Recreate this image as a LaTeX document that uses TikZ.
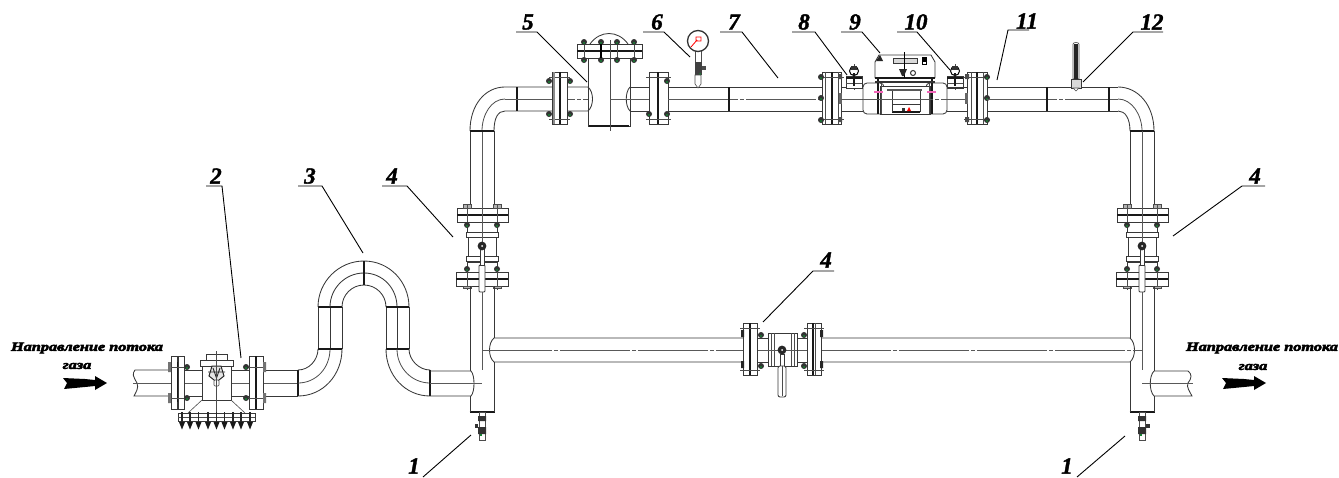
\documentclass[tikz,border=0pt]{standalone}
\usepackage{fontspec}
\setmainfont{Liberation Serif}
\newfontfamily\numfont[FakeBold=1.6]{Liberation Serif Bold Italic}
\newfontfamily\capfont[FakeBold=4.5,FakeStretch=1.3]{Liberation Serif Bold Italic}
\definecolor{bgreen}{RGB}{20,130,50}
\tikzset{
 pl/.style={line width=.85pt,draw=black!78},
 thk/.style={line width=1.7pt,draw=black!90},
 cl/.style={line width=.75pt,draw=black!65,dash pattern=on 70pt off 2pt on 4pt off 2pt},
 thin line/.style={line width=.6pt,draw=black!70},
 lead/.style={line width=.9pt,draw=black},
 numtxt/.style={font=\numfont\fontsize{23}{23}\selectfont,inner sep=0pt},
 captxt/.style={font=\capfont\fontsize{12.5}{13}\selectfont,inner sep=0pt},
}
\newcommand{\boltmark}[2]{\fill[black!80] (#1,#2) circle (3);\fill[bgreen] (#1,#2+1) circle (1.2);}
\newcommand{\callout}[6]{%
 \node[numtxt] (t#1) at (#3) {#2};
 \coordinate (a#1) at (#4); \coordinate (b#1) at (#5); \coordinate (c#1) at (#6);
 \draw[lead] (a#1) -- (b#1) -- (c#1);}
% flange on horizontal pipe: x1, xm, x2, yc
\newcommand{\flangeH}[4]{%
 \draw[pl,fill=white] (#1,#4-26) rectangle (#3,#4+26);
 \draw[thk] (#2,#4-26) -- (#2,#4+26);
 \draw[thin line] (#1-3,#4-21) -- (#3+3,#4-21) (#1-3,#4+21) -- (#3+3,#4+21);}
% vertical-pipe valve: cx, nub x1, nub x2
\newcommand{\valveV}[3]{%
 \begin{scope}[shift={(#1,0)}]
 \draw[pl] (-12,131) -- (-12,208) (12,131) -- (12,208);
 \draw[pl,fill=white] (-25,208) rectangle (26,222);
 \draw[thk] (-25,215) -- (26,215);
 \draw[thin line,fill=black!30] (-19,204) rectangle (-11,208) (11,204) rectangle (19,208);
 \draw[thin line] (-15,204) -- (-15,222) (15,204) -- (15,222);
 \draw[pl] (-15,222) -- (-15,232) (15,222) -- (15,232);
 \boltmark{-15}{225}\boltmark{15}{225}
 \draw[pl,fill=white] (-14,232) rectangle (14,262);
 \draw[pl,fill=white] (-16,232) rectangle (16,237) (-16,256) rectangle (16,261);
 \draw[pl] (-15,261) -- (-15,272) (15,261) -- (15,272);
 \boltmark{-15}{269}\boltmark{15}{269}
 \draw[pl,fill=white] (-26,272) rectangle (26,286);
 \draw[thk] (-26,279) -- (26,279);
 \draw[thin line] (-15,272) -- (-15,290) (15,272) -- (15,290);
 \draw[thin line,fill=black!30] (-19,286) rectangle (-11,288) (11,286) rectangle (19,288);
 \draw[cl,dash pattern=on 200pt] (0,170) -- (0,412);
 \draw[thk] (-12.5,412) -- (12.5,412);
 \draw[pl,fill=white,rounded corners=1pt] (-3,265) rectangle (3,292);
 \draw[pl,fill=white] (-2,246) rectangle (2,265);
 \fill[black!85] (0,246) circle (4.4);
 \fill[white] (0,246) circle (1);
 \draw[thin line,fill=white] (-3,433) rectangle (3,440);
 \draw[thin line] (-3,412) rectangle (3,433);
 \fill[black!80] (-4,416) rectangle (4,421) (-4,427) rectangle (4,434);
 \fill[black!80] (#2,424) rectangle (#3,428);
 \fill[bgreen] (-2,434) rectangle (0,436);
 \end{scope}}
\newcommand{\instr}[1]{%
 \draw[thin line] (#1,64) -- (#1,90);
 \draw[line width=1pt,draw=black,fill=white] (#1,71) circle (4.5);
 \fill[black!80] (#1-3,66) rectangle (#1+3,70);
 \draw[pl,fill=white] (#1-8,76) -- (#1+8,76) -- (#1+8,88) -- (#1-8,88) -- cycle;
 \draw[thk] (#1-8,78) -- (#1+8,78);
 \draw[thin line] (#1-8,83) -- (#1+8,83);
 \draw[thk] (#1,73) -- (#1,86);}
\newcommand{\flowarrow}[1]{%
 \fill[black,shift={(#1,0)}] (0,378) -- (22,379) -- (32,380) -- (32,376) -- (44,383) -- (32,390) -- (32,386) -- (22,387) -- (1,389) -- (4,383) -- cycle;}
\begin{document}
\begin{tikzpicture}[x=1pt,y=-1pt]
\useasboundingbox (0,0) rectangle (1339,477);
%
% ---- inlet pipe
\draw[pl] (171,370) -- (135,370) .. controls (132,374) and (133,376) .. (137,383) .. controls (139,388) and (136,392) .. (134,396) -- (171,396);
\draw[cl] (133,383) -- (171,383);
\draw[pl] (184,370) -- (202,370) (184,396) -- (202,396) (231,370) -- (249,370) (231,396) -- (249,396);
\draw[pl] (263,370) -- (298,370) (263,396) -- (298,396);
\draw[cl] (263,383) -- (297,383);
\draw[cl] (184,383) -- (249,383);
% inlet valve flanges
\draw[pl,fill=white] (171,356) rectangle (177,409) (178,356) rectangle (184,409);
\draw[thk] (177.5,362) -- (177.5,402);
\draw[pl,fill=white] (249,356) rectangle (263,409);
\draw[thk] (256,356) -- (256,409);
\draw[thin line] (168,367) -- (187,367) (168,398) -- (187,398) (246,367) -- (266,367) (246,398) -- (266,398);
\fill[black!55] (168,362) rectangle (171,372) (168,393) rectangle (171,403) (263,362) rectangle (266,372) (263,393) rectangle (266,403);
\boltmark{187}{367}\boltmark{187}{398}\boltmark{246}{367}\boltmark{246}{398}
% inlet valve body
\draw[pl,fill=white] (202,362) rectangle (231,400);
\draw[pl,fill=white] (200,360) rectangle (233,366);
\draw[pl,fill=white] (206,354) rectangle (227,360);
\draw[thin line] (188,413) -- (202,400) (245,413) -- (231,400);
\draw[line width=1pt,draw=black!85,fill=black!10] (212,366) -- (221,366) -- (224,376) -- (216.5,382) -- (209,376) -- cycle;
\draw[line width=.9pt,draw=black!85] (208,372) -- (225,372) (213,368) -- (216.5,378) -- (220,368);
\draw[thin line,fill=white,rounded corners=1pt] (214,380) rectangle (219,386);
\draw[thin line] (216.5,351) -- (216.5,413);
\draw[pl,fill=white] (178,413) rectangle (255,421);
\draw[thin line] (178,417) -- (255,417);
\foreach \nx in {182,190,198.5,208,216.5,224.5,233,241,250}{
 \draw[line width=1.1pt,draw=black!85] (\nx,412) -- (\nx,425);
 \fill[black!90] (\nx-3,422) -- (\nx+3,422) -- (\nx,429.5) -- cycle;
}
% loop
\draw[thk] (298,370) -- (298,396);
\draw[pl] (298,370) .. controls (309,370) and (318,360) .. (318,349)
          (298,396) .. controls (323,396) and (342,375) .. (342,349);
\draw[line width=.8pt,draw=black!70] (298,383) .. controls (316,383) and (330,368) .. (330,349);
\draw[pl] (318,349) -- (318,307) (330,349) -- (330,307) (342,349) -- (342,307);
\draw[thk] (318,349) -- (342,349) (318,307) -- (342,307);
\draw[pl] (318,307) .. controls (318,281.7) and (338.7,261) .. (364,261) .. controls (389.3,261) and (409,281.7) .. (409,307);
\draw[pl] (330,307) .. controls (330,288.3) and (345.3,273) .. (364,273) .. controls (382.7,273) and (397,288.3) .. (397,307);
\draw[pl] (342,307) .. controls (342,294.9) and (351.9,285) .. (364,285) .. controls (376.1,285) and (386,294.9) .. (386,307);
\draw[thk] (364,261) -- (364,285);
\draw[pl] (386,349) -- (386,307) (397,349) -- (397,307) (409,349) -- (409,307);
\draw[thk] (386,349) -- (409,349) (386,307) -- (409,307);
\draw[pl] (386,349) .. controls (386,375) and (405,396) .. (430,396)
          (409,349) .. controls (409,360) and (419,370) .. (430,370);
\draw[line width=.8pt,draw=black!70] (397,349) .. controls (397,368) and (412,383) .. (430,383);
\draw[thk] (430,370) -- (430,396);
% left and right vertical valves
\valveV{482}{-7}{-4}
\valveV{1142}{4}{8}
% vertical pipe walls below the valves, broken where branches enter
\draw[pl] (470,286) -- (470,371) (470,396) -- (470,412) (494,286) -- (494,338) (494,362) -- (494,412);
\draw[pl] (1130,286) -- (1130,338) (1130,362) -- (1130,412) (1154,286) -- (1154,371) (1154,396) -- (1154,412);
% inlet branch cap
\draw[pl] (430,371) -- (471,371) .. controls (475,375) and (475,392) .. (471,396) -- (430,396);
\draw[cl] (430,383) -- (482,383);
% top elbows
\draw[pl] (470,131) .. controls (470,105) and (485,87) .. (505,87) -- (588,87)
          (494,131) .. controls (494,118) and (498,111) .. (505,111) -- (588,111);
\draw[line width=.8pt,draw=black!70] (482,131) .. controls (482,115) and (491,99) .. (505,99);
\draw[cl,dash pattern=on 200pt] (482,131) -- (482,208);
\draw[thk] (470,131) -- (494,131);
\draw[thk] (517,87) -- (517,111);
\draw[cl] (505,99) -- (610,99);
% top flange 1
\flangeH{552}{560}{567}{98}
\draw[line width=1.6pt,draw=black!45] (554,72) -- (554,124);
\boltmark{549}{81}\boltmark{570}{81}\boltmark{549}{114}\boltmark{570}{114}
% filter
\draw[pl,fill=white] (588,58) -- (588,126) -- (630,126) -- (630,58);
\draw[thk] (589,126) -- (629,126);
\draw[pl] (588,87) .. controls (594,92) and (594,106) .. (588,111)
          (630,87) .. controls (625,92) and (625,106) .. (630,111);
\draw[pl] (590,44) .. controls (600,30) and (618,30) .. (628,44);
\draw[pl,fill=white] (577,44) rectangle (642,58);
\draw[thk] (577,51) -- (642,51);
\foreach \bx in {584,601,617,634}{
 \draw[thin line] (\bx,42) -- (\bx,60);
 \boltmark{\bx}{42}\boltmark{\bx}{60}
}
\draw[line width=1.1pt,draw=black] (601,44) -- (601,58);
\draw[thin line] (610,40) -- (610,131);
\draw[cl] (610,99) -- (649,99);
% after filter
\draw[pl] (630,87) -- (649,87) (630,111) -- (649,111);
\flangeH{649}{658}{668}{98}
\boltmark{667}{81}\boltmark{667}{114}\boltmark{649}{114}
\draw[pl] (668,87) -- (822,87) (668,111) -- (822,111);
\draw[cl] (668,99) -- (822,99);
\draw[thk] (729,87) -- (729,111);
% gauge
\draw[thin line,fill=white] (695,50) rectangle (701,62);
\fill[black!75] (695,62) rectangle (702,75);
\fill[black!70] (702,66) rectangle (706,70);
\fill[bgreen] (700,74) circle (1);
\draw[thin line,fill=white] (695,75) -- (701,75) -- (701,84) -- (698,88) -- (695,84) -- cycle;
\draw[line width=1.3pt,draw=black!80,fill=white] (698,41) circle (10.5);
\draw[line width=.8pt,draw=red] (691,47) -- (697,40) (696,37) rectangle (701,41);
% flange before meter
\flangeH{822}{832}{841}{98}
\draw[thin line] (825,72) -- (825,124) (838,72) -- (838,124);
\boltmark{821}{77}\boltmark{821}{98}\boltmark{821}{120}
\fill[black!60] (839,93) rectangle (842,104);
\fill[black!70] (838,74) rectangle (842,79) (838,117) rectangle (842,122);
\draw[pl] (841,87) -- (863,87) (841,111) -- (863,111);
\draw[cl] (841,99) -- (863,99);
% instruments 8, 10
\instr{854}
\instr{955}
% meter
\draw[pl,fill=white,rounded corners=4pt] (863,83) rectangle (884,114);
\draw[pl,fill=white,rounded corners=4pt] (926,83) rectangle (947,114);
\draw[pl,fill=white] (880,86) rectangle (930,114);
\draw[pl] (892,104) -- (920,104);
\draw[thk] (892,112) -- (920,112);
\draw[pl] (892,90) -- (892,112) (920,90) -- (920,112);
\draw[line width=2pt,draw=black!65] (887,90) -- (922,90);
\draw[thk] (878,76) -- (878,114) (932,76) -- (932,114);
\draw[thin line] (881,82) -- (881,114) (929,82) -- (929,114);
\draw[cl] (863,99) -- (947,99);
\draw[line width=1.5pt,draw=magenta!60!white] (874,92) -- (883,92) (927,92) -- (936,92);
\fill[red] (907,111) -- (909,107) -- (911,111) -- cycle;
\fill[black!80] (902,108) rectangle (905,111);
% meter head
\draw[pl,fill=white] (875,78) -- (875,62) -- (879,55) -- (931,55) -- (935,62) -- (935,78);
\draw[thk] (875,78) -- (935,78);
\draw[line width=1.1pt,draw=black!80] (875,82) -- (935,82);
\draw[pl,fill=black!15] (893,58) rectangle (917,63);
\draw[line width=.9pt,fill=white] (922,57) rectangle (926,64);
\fill[black] (923,58) rectangle (926,62);
\fill[black!85] (876,61) -- (880,55) -- (883,61) -- cycle;
\draw[line width=1pt,draw=black] (904,52) -- (904,78);
\fill[black!85] (899,69) -- (907,69) -- (904,76) -- (902,76) -- cycle;
\draw[line width=1pt,draw=black!80] (913,73) circle (2.5);
% flange after meter
\draw[pl] (947,87) -- (967,87) (947,111) -- (967,111);
\draw[cl] (947,99) -- (967,99);
\flangeH{967}{977}{987}{98}
\draw[thin line] (971,72) -- (971,124) (983,72) -- (983,124);
\boltmark{987}{77}\boltmark{987}{98}\boltmark{987}{120}
\fill[black!60] (965,93) rectangle (968,104);
\fill[black!70] (965,74) rectangle (969,79) (965,117) rectangle (969,122);
% last top pipe
\draw[pl] (987,87) -- (1118,87) (987,111) -- (1118,111);
\draw[cl] (987,99) -- (1118,99);
\draw[thk] (1047,87) -- (1047,111);
\draw[thk] (1109,87) -- (1109,111);
\draw[pl] (1118,87) .. controls (1138,87) and (1154,105) .. (1154,131)
          (1118,111) .. controls (1125,111) and (1130,118) .. (1130,131);
\draw[line width=.8pt,draw=black!70] (1118,99) .. controls (1132,99) and (1142,115) .. (1142,131);
\draw[thk] (1130,131) -- (1154,131);
\draw[cl,dash pattern=on 200pt] (1142,131) -- (1142,208);
% thermometer
\draw[thin line,fill=white] (1073,44) .. controls (1073,42) and (1079,42) .. (1079,44) -- (1079,79) -- (1073,79) -- cycle;
\draw[line width=1.1pt,draw=black!85] (1075,44) -- (1075,79) (1077,44) -- (1077,79);
\draw[pl,fill=black!15] (1071,79) rectangle (1081,88);
\draw[thin line,fill=white] (1073,88) -- (1079,88) -- (1076,91) -- cycle;
% bottom bypass pipe
\draw[pl] (743,338) -- (494,338) .. controls (488,343) and (488,357) .. (494,362) -- (743,362);
\draw[cl] (482,350) -- (743,350);
\draw[pl] (821,338) -- (1130,338) .. controls (1136,343) and (1136,357) .. (1130,362) -- (821,362);
\draw[cl] (821,350) -- (1142,350);
\draw[pl] (757,338) -- (768,338) (757,362) -- (768,362) (797,338) -- (807,338) (797,362) -- (807,362);
\draw[cl] (757,350) -- (807,350);
\flangeH{743}{750}{757}{349}
\draw[pl,fill=white] (807,323) rectangle (821,375);
\draw[thk] (813,323) -- (813,375);
\draw[thin line] (815,323) -- (815,375);
\draw[thin line] (804,328) -- (824,328) (804,370) -- (824,370);
\fill[black!85] (741,330) rectangle (744,337) (741,361) rectangle (744,368) (820,330) rectangle (823,337) (820,361) rectangle (823,368);
\boltmark{761}{335}\boltmark{761}{366}\boltmark{804}{335}\boltmark{804}{366}
\draw[pl,fill=white] (768,333) rectangle (797,366);
\draw[thin line] (771,333) -- (771,366) (774,333) -- (774,366) (791,333) -- (791,366) (794,333) -- (794,366);
\draw[cl] (768,350) -- (797,350);
\fill[black!85] (782,350) circle (4.4);
\fill[white] (782,350) circle (1);
\draw[pl,fill=white] (780,354) rectangle (784,366);
\draw[pl,fill=white,rounded corners=2pt] (778,366) rectangle (786,397);
\draw[thin line] (782,366) -- (782,396);
% right outlet
\draw[pl] (1154,371) -- (1188,371) .. controls (1192,374) and (1192,378) .. (1188,383) .. controls (1186,387) and (1190,392) .. (1192,396) -- (1154,396);
\draw[pl] (1154,371) .. controls (1149,376) and (1149,391) .. (1154,396);
\draw[cl,dash pattern=on 60pt] (1142,383) -- (1193,383);
% callouts
\callout{2}{2}{216,176}{206,186}{222,186}{241,358}
\callout{3}{3}{310,176}{298,186}{322,186}{363,253}
\callout{4a}{4}{392,176}{382,186}{407,186}{453,237}
\callout{5}{5}{528,22}{516,32}{537,32}{587,82}
\callout{6}{6}{657,22}{643,32}{664,32}{690,57}
\callout{7}{7}{734,22}{720,32}{742,32}{778,78}
\callout{8}{8}{804,22}{792,32}{815,32}{847,75}
\callout{9}{9}{855,22}{841,32}{862,32}{880,53}
\callout{10}{10}{916,22}{897,32}{917,32}{950,70}
\callout{11}{11}{1027,21}{1029,30}{1008,30}{997,80}
\callout{12}{12}{1152,22}{1163,32}{1133,32}{1083,82}
\callout{4b}{4}{1255,176}{1265,186}{1242,186}{1173,236}
\callout{4c}{4}{826,260}{834,271}{813,271}{763,322}
\node[numtxt] (t1a) at (414,466) {1};
\coordinate (a1a) at (423,477); \coordinate (b1a) at (471,435);
\draw[lead] (a1a) -- (b1a);
\node[numtxt] (t1b) at (1067,466) {1};
\coordinate (a1b) at (1077,477); \coordinate (b1b) at (1125,436);
\draw[lead] (a1b) -- (b1b);
% flow captions
\node[captxt] (capL) at (87,348) {Направление потока};
\node[captxt] (gasL) at (77,366) {газа};
\node[captxt] (capR) at (1262,348) {Направление потока};
\node[captxt] (gasR) at (1253,367) {газа};
\flowarrow{63}
\flowarrow{1222}
\end{tikzpicture}
\end{document}
